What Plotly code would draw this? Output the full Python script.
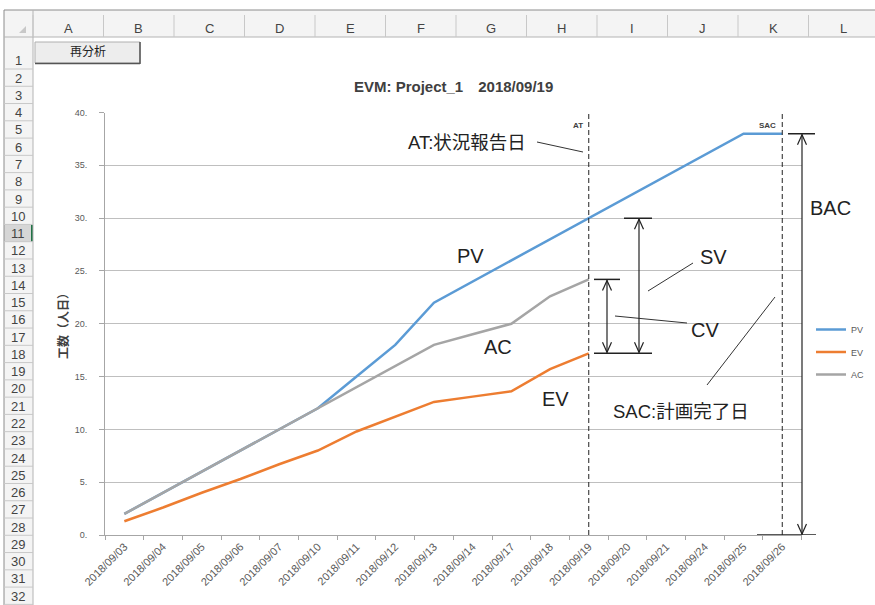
import plotly.graph_objects as go

# ---------------- data ----------------
dates = ["2018/09/03", "2018/09/04", "2018/09/05", "2018/09/06", "2018/09/07",
         "2018/09/10", "2018/09/11", "2018/09/12", "2018/09/13", "2018/09/14",
         "2018/09/17", "2018/09/18", "2018/09/19", "2018/09/20", "2018/09/21",
         "2018/09/24", "2018/09/25", "2018/09/26"]
pv = [2, 4, 6, 8, 10, 12, 15, 18, 22, 24, 26, 28, 30, 32, 34, 36, 38, 38]
ev = [1.3, 2.6, 4.0, 5.3, 6.7, 8.0, 9.8, 11.2, 12.6, 13.1, 13.6, 15.7, 17.2]
ac = [2, 4, 6, 8, 10, 12, 14, 16, 18, 19, 20, 22.6, 24.2]
y_tickvals = [0, 5, 10, 15, 20, 25, 30, 35, 40]
y_ticktext = ["0.", "5.", "10.", "15.", "20.", "25.", "30.", "35.", "40."]
at_date = "2018/09/19"
sac_date = "2018/09/26"
title_text = "EVM: Project_1\u30002018/09/19"
col_letters = ["A", "B", "C", "D", "E", "F", "G", "H", "I", "J", "K", "L"]

# derived values for annotations
at_i = dates.index(at_date)
sac_i = dates.index(sac_date)
pv_at = pv[at_i]
ev_at = ev[at_i]
ac_at = ac[at_i]
bac = max(pv)

W, H = 875, 605
def px(x):
    return x / W
def py(y):
    return 1 - y / H

FONT = "Liberation Sans, Arial, Noto Sans CJK JP, sans-serif"
C_PV, C_EV, C_AC = "#5b9bd5", "#ed7d31", "#a5a5a5"

fig = go.Figure()
fig.add_trace(go.Scatter(x=dates, y=pv, mode="lines", name="PV", legendgroup="a",
                         line=dict(color=C_PV, width=2.5)))
fig.add_trace(go.Scatter(x=dates[:len(ev)], y=ev, mode="lines", name="EV", legendgroup="b",
                         line=dict(color=C_EV, width=2.5)))
fig.add_trace(go.Scatter(x=dates[:len(ac)], y=ac, mode="lines", name="AC", legendgroup="c",
                         line=dict(color=C_AC, width=2.5)))

shapes = []
annots = []

def pline(x0, y0, x1, y1, color="#333333", width=1, dash=None):
    d = dict(type="line", xref="paper", yref="paper", x0=px(x0), y0=py(y0),
             x1=px(x1), y1=py(y1), line=dict(color=color, width=width))
    if dash:
        d["line"]["dash"] = dash
    shapes.append(d)

def prect(x0, y0, x1, y1, fill, lc=None, lw=0, layer="below"):
    shapes.append(dict(type="rect", xref="paper", yref="paper", x0=px(x0), y0=py(y0),
                       x1=px(x1), y1=py(y1), fillcolor=fill, layer=layer,
                       line=dict(color=lc or fill, width=lw)))

def ptext(x, y, text, size, color="#222222", xanchor="center", yanchor="middle", angle=0, family=FONT):
    annots.append(dict(xref="paper", yref="paper", x=px(x), y=py(y), text=text,
                       showarrow=False, xanchor=xanchor, yanchor=yanchor, textangle=angle,
                       font=dict(size=size, color=color, family=family)))

# ---------------- spreadsheet frame ----------------
prect(4, 10, 875, 37, "#f4f4f4")
prect(4, 37, 33, 605, "#f4f4f4")
row_top = {1: 37}
row_h = 17.27
for k in range(2, 34):
    row_top[k] = 69 + (k - 2) * row_h
# highlighted row 11
prect(4, row_top[11], 33, row_top[12], "#d6d6d6")
pline(32, row_top[11], 32, row_top[12], color="#217346", width=2)
pline(4, 10, 875, 10, color="#8c8c8c", width=1)
pline(4, 10, 4, 605, color="#8c8c8c", width=1)
pline(4, 37, 875, 37, color="#b4b4b4", width=1)
pline(33, 10, 33, 605, color="#b4b4b4", width=1)
for k in range(0, 13):
    xx = 33 + 70.5 * k
    pline(xx, 15, xx, 37, color="#c8c8c8", width=1)
for k in range(2, 34):
    pline(4, row_top[k], 33, row_top[k], color="#c8c8c8", width=1)
for k, L in enumerate(col_letters):
    ptext(33 + 70.5 * k + 35.25, 29, L, 13, color="#444444")
ptext(18, 61, "1", 13, color="#444444")
for k in range(2, 33):
    ptext(18, row_top[k] + row_h / 2 + 0.5, str(k), 13, color="#444444")
# select-all triangle
shapes.append(dict(type="path", xref="paper", yref="paper",
                   path=f"M{px(26)},{py(26)} L{px(26)},{py(33)} L{px(19)},{py(33)} Z",
                   fillcolor="#c8c8c8", line=dict(width=0), layer="below"))
# button
prect(35, 42, 140, 63, "#ededed", lc="#b0b0b0", lw=1)
pline(140, 42, 140, 64, color="#555555", width=1.5)
pline(35, 63.5, 140, 63.5, color="#555555", width=1.5)
ptext(88, 52, "再分析", 12, color="#222222")

# ---------------- chart texts ----------------
ptext(453, 87, "<b>" + title_text + "</b>", 15, color="#404040")
ptext(63, 323, "<b>工数（人日）</b>", 12, color="#404040", angle=-90)

# AT / SAC dashed lines
for idx, lab in ((at_i, "AT"), (sac_i, "SAC")):
    shapes.append(dict(type="line", xref="x", yref="paper", x0=idx, x1=idx,
                       y0=py(535), y1=py(113), line=dict(color="#222222", width=1, dash="5px,3px")))
    annots.append(dict(xref="x", yref="paper", x=idx, y=py(119), text="<b>" + lab + "</b>",
                       showarrow=False, xanchor="right", xshift=-4,
                       font=dict(size=8, color="#404040", family=FONT)))

# leader lines
pline(537, 142, 583, 152)
pline(648, 291, 693, 263)
pline(615, 316, 687, 323)
pline(707, 385, 775, 297)

# big labels
ptext(467, 142, "AT:状況報告日", 18.5)
ptext(470, 256, "PV", 20)
ptext(498, 347, "AC", 20)
ptext(555, 399, "EV", 20)
ptext(713, 257, "SV", 20)
ptext(705, 330, "CV", 20)
ptext(830, 208, "BAC", 20)
ptext(681, 411, "SAC:計画完了日", 18.5)

# value-tied arrows
AC_ = "#222222"
def vseg(xp, v0, v1):
    shapes.append(dict(type="line", xref="paper", yref="y", x0=px(xp), x1=px(xp),
                       y0=v0, y1=v1, line=dict(color=AC_, width=1.2)))
def hbar(xa, xb, v):
    shapes.append(dict(type="line", xref="paper", yref="y", x0=px(xa), x1=px(xb),
                       y0=v, y1=v, line=dict(color=AC_, width=1.5)))
def head(xp, v, up):
    s = 1 if up else -1
    for w in (-4.5, 4.5):
        shapes.append(dict(type="line", xref="paper", yref="y", xsizemode="pixel",
                           ysizemode="pixel", xanchor=px(xp), yanchor=v,
                           x0=0, y0=-1 * s, x1=w, y1=-11 * s,
                           line=dict(color=AC_, width=1.2)))

# CV
vseg(607, ev_at, ac_at)
hbar(594, 620, ac_at)
head(607, ac_at, True)
head(607, ev_at, False)
# SV
vseg(639, ev_at, pv_at)
hbar(624, 652, pv_at)
head(639, pv_at, True)
head(639, ev_at, False)
hbar(594, 652, ev_at)
# BAC
vseg(802, 0, bac)
hbar(788, 815, bac)
hbar(757, 816, 0)
head(802, bac, True)
head(802, 0, False)

fig.update_layout(
    width=W, height=H,
    margin=dict(l=0, r=0, t=0, b=0, autoexpand=False),
    paper_bgcolor="white", plot_bgcolor="white",
    font=dict(family=FONT, color="#595959"),
    shapes=shapes, annotations=annots,
    showlegend=True,
    legend=dict(x=px(811), y=py(315), xanchor="left", yanchor="top",
                bgcolor="rgba(0,0,0,0)", font=dict(size=9, color="#595959"),
                tracegroupgap=3.5, itemwidth=30),
    xaxis=dict(domain=[px(105), px(801.6)], type="category", categoryorder="array",
               categoryarray=dates, range=[-0.5, len(dates) - 0.5],
               showgrid=False, showline=True, linecolor="#a6a6a6", linewidth=1,
               ticks="outside", tickson="boundaries", ticklen=4, tickcolor="#a6a6a6",
               tickangle=-45, tickfont=dict(size=11, color="#595959"), fixedrange=True),
    yaxis=dict(domain=[py(535), py(112.5)], range=[0, 40], tickvals=y_tickvals,
               ticktext=y_ticktext, showgrid=True, gridcolor="#bfbfbf", gridwidth=1,
               zeroline=False, showline=True, linecolor="#a6a6a6", linewidth=1,
               ticks="outside", ticklen=5, tickcolor="#a6a6a6",
               tickfont=dict(size=9, color="#595959"), ticklabelstandoff=10),
)

fig.write_html("out.html", config={"displayModeBar": False},
               post_script="document.body.style.margin='0';document.body.style.overflow='hidden';")
